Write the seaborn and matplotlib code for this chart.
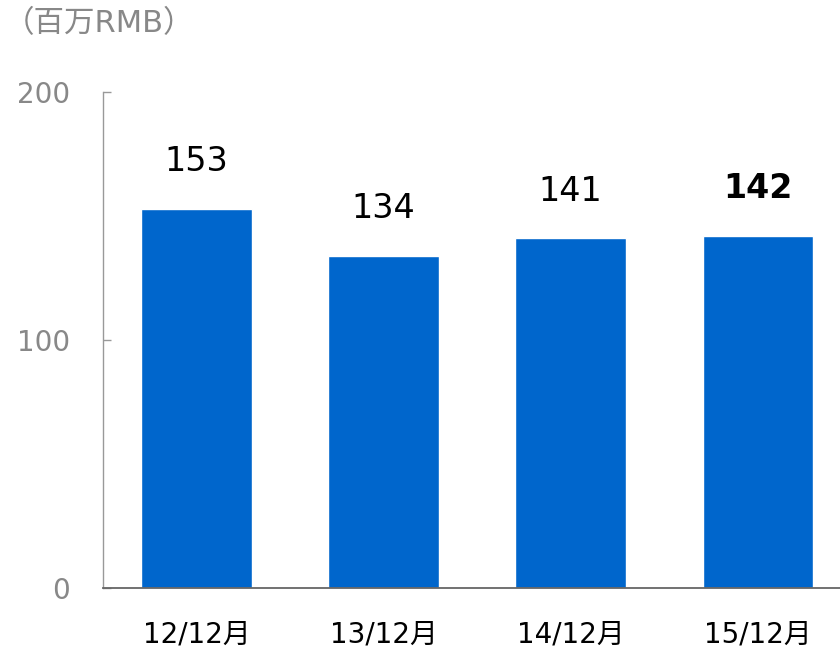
import pandas as pd
import matplotlib.pyplot as plt
import seaborn as sns

# data
periods = ["12/12月", "13/12月", "14/12月", "15/12月"]
values = [153, 134, 141, 142]
y_ticks = [0, 100, 200]

df = pd.DataFrame({"period": periods, "value": values})

sns.set_style("white")
plt.rcParams["font.family"] = ["DejaVu Sans", "Noto Sans CJK JP"]

fig = plt.figure(figsize=(8.4, 6.48), dpi=100)
ax = fig.add_axes([103 / 840, 60 / 648, 737 / 840, 496 / 648])

sns.barplot(data=df, x="period", y="value", color="#0066CC", saturation=1,
            width=0.59, ax=ax)

ax.set_ylim(0, 200)
ax.set_xlim(-0.5, 3.44)
ax.set_yticks(y_ticks)
ax.set_yticklabels([str(t) for t in y_ticks])
ax.tick_params(axis="y", left=True, direction="in", length=6, width=1,
               color="#999999", labelcolor="#888888", labelsize=20, pad=24)
ax.tick_params(axis="x", bottom=False, labelsize=20, labelcolor="black", pad=20)
ax.set_xlabel("")
ax.set_ylabel("")

for s in ["top", "right"]:
    ax.spines[s].set_visible(False)
ax.spines["left"].set_color("#999999")
ax.spines["bottom"].set_color("#666666")
ax.spines["left"].set_linewidth(1)
ax.spines["bottom"].set_linewidth(1.3)

for i, v in enumerate(values):
    ax.annotate(str(v), (i, v), xytext=(0, 34), textcoords="offset points",
                ha="center", va="center", fontsize=24, color="black",
                fontweight="bold" if i == len(values) - 1 else "normal")

fig.text(4 / 840, 1 - 24 / 648, "（百万RMB）", fontsize=22, color="#888888",
         va="center", ha="left")

fig.savefig("out.png", dpi=100)
